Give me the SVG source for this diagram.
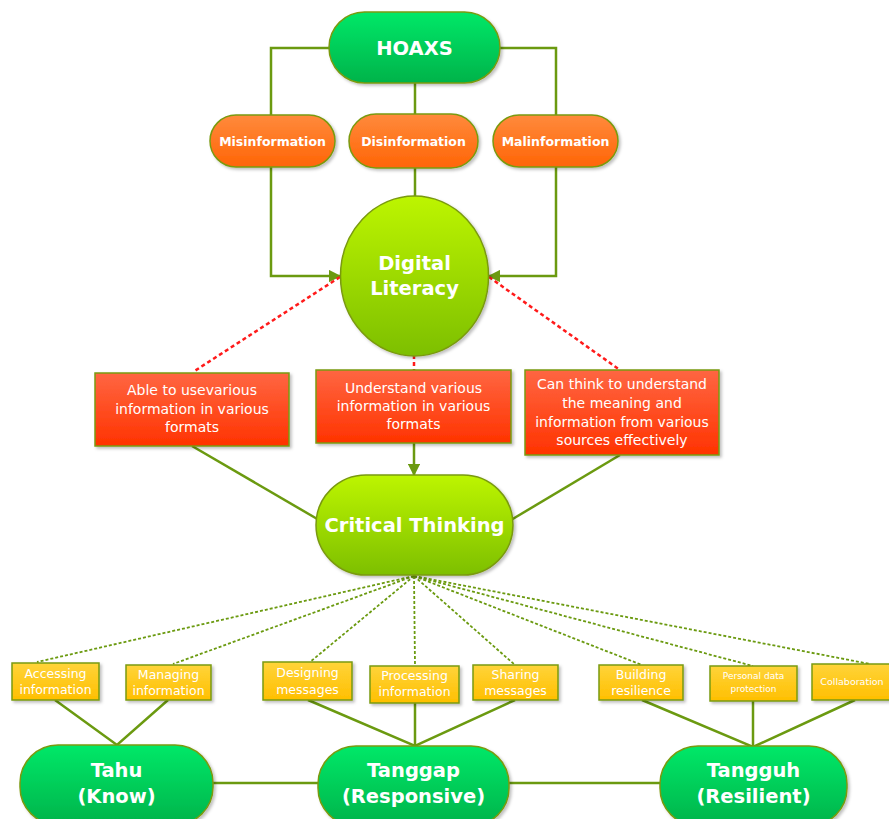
<svg xmlns="http://www.w3.org/2000/svg" width="889" height="819" viewBox="0 0 889 819">
<defs>
<linearGradient id="gGreen" x1="0" y1="0" x2="0" y2="1"><stop offset="0" stop-color="#00e868"/><stop offset="1" stop-color="#00b34a"/></linearGradient>
<linearGradient id="gOrange" x1="0" y1="0" x2="0" y2="1"><stop offset="0" stop-color="#ff8a3c"/><stop offset="1" stop-color="#ff6506"/></linearGradient>
<linearGradient id="gLime" x1="0" y1="0" x2="0" y2="1"><stop offset="0" stop-color="#bdf500"/><stop offset="1" stop-color="#7dbf00"/></linearGradient>
<linearGradient id="gRed" x1="0" y1="0" x2="0" y2="1"><stop offset="0" stop-color="#ff6642"/><stop offset="1" stop-color="#ff3300"/></linearGradient>
<linearGradient id="gYellow" x1="0" y1="0" x2="0" y2="1"><stop offset="0" stop-color="#ffd43a"/><stop offset="1" stop-color="#ffbf00"/></linearGradient>
<filter id="sh" x="-10%" y="-10%" width="130%" height="130%"><feDropShadow dx="2" dy="2" stdDeviation="1.5" flood-color="#000" flood-opacity="0.25"/></filter>
<marker id="arr" viewBox="0 0 10 10" refX="9" refY="5" markerWidth="5" markerHeight="5" orient="auto"><path d="M0,0 L10,5 L0,10 z" fill="#6b9a10"/></marker>
</defs>
<style>
.node{stroke:#7a9a10;stroke-width:1.5;filter:url(#sh)}
.green{fill:url(#gGreen)}
.orange{fill:url(#gOrange)}
.lime{fill:url(#gLime)}
.red{fill:url(#gRed)}
.yellow{fill:url(#gYellow)}
.ln{fill:none;stroke:#6b9a10;stroke-width:2.5}
.red-dash{fill:none;stroke:#ff1a1a;stroke-width:2.5;stroke-dasharray:4 3}
.dot{fill:none;stroke:#6b9a10;stroke-width:1.8;stroke-dasharray:3 2}
text{fill:#fff;font-family:"DejaVu Sans",Verdana,sans-serif;text-anchor:middle;dominant-baseline:central}
.big{font-weight:bold;font-size:19.5px}
.mid{font-weight:bold;font-size:12.5px}
.box{font-size:14px}
.ybox{font-size:12.5px}
</style>
<g id="connectors">
<path class="ln" d="M329,48 H271 V115"/>
<path class="ln" d="M500,48 H556 V115"/>
<path class="ln" d="M415,83 V114"/>
<path class="ln" d="M271,167 V276 H340" marker-end="url(#arr)"/>
<path class="ln" d="M556,167 V276 H489" marker-end="url(#arr)"/>
<path class="ln" d="M415,168 V196"/>
<path class="red-dash" d="M340,277 L193,372"/>
<path class="red-dash" d="M489,277 L620,370"/>
<path class="red-dash" d="M414,355 V370"/>
<path class="ln" d="M192,446 L319,520"/>
<path class="ln" d="M620,455 L511,520"/>
<path class="ln" d="M414,443 V475" marker-end="url(#arr)"/>
<path class="dot" d="M414,576 L37,662"/>
<path class="dot" d="M414,576 L173,664"/>
<path class="dot" d="M414,576 L310,662"/>
<path class="dot" d="M414,576 L415,666"/>
<path class="dot" d="M414,576 L515,665"/>
<path class="dot" d="M414,576 L642,665"/>
<path class="dot" d="M414,576 L753,666"/>
<path class="dot" d="M414,576 L870,664"/>
<path class="ln" d="M55,700 L117,745 L168,700"/>
<path class="ln" d="M308,700 L415,746 L515,700"/>
<path class="ln" d="M415,703 V746"/>
<path class="ln" d="M642,700 L753,747 L855,700"/>
<path class="ln" d="M753,701 V747"/>
<path class="ln" d="M213,783 H318"/>
<path class="ln" d="M509,783 H660"/>
</g>
<g id="hoaxs"><rect class="node green" x="329" y="12" width="171" height="71" rx="35.5"/><text class="big" x="414.5" y="48">HOAXS</text></g>
<g id="misinformation"><rect class="node orange" x="210" y="115" width="125" height="52" rx="26"/><text class="mid" x="272.5" y="141">Misinformation</text></g>
<g id="disinformation"><rect class="node orange" x="349" y="114" width="129" height="54" rx="27"/><text class="mid" x="413.5" y="141">Disinformation</text></g>
<g id="malinformation"><rect class="node orange" x="493" y="115" width="125" height="52" rx="26"/><text class="mid" x="555.5" y="141">Malinformation</text></g>
<g id="digital-literacy"><ellipse class="node lime" cx="414.5" cy="276" rx="74" ry="80"/><text class="big" x="414.5" y="263">Digital</text><text class="big" x="414.5" y="288">Literacy</text></g>
<g id="box-able"><rect class="node red" x="95" y="373" width="194" height="73"/><text class="box" x="192" y="390">Able to usevarious</text><text class="box" x="192" y="408.5">information in various</text><text class="box" x="192" y="427">formats</text></g>
<g id="box-understand"><rect class="node red" x="316" y="370" width="195" height="73"/><text class="box" x="413.5" y="388">Understand various</text><text class="box" x="413.5" y="406">information in various</text><text class="box" x="413.5" y="424">formats</text></g>
<g id="box-think"><rect class="node red" x="525" y="370" width="194" height="85"/><text class="box" x="622" y="384">Can think to understand</text><text class="box" x="622" y="403">the meaning and</text><text class="box" x="622" y="421.5">information from various</text><text class="box" x="622" y="440">sources effectively</text></g>
<g id="critical-thinking"><rect class="node lime" x="316" y="475" width="197" height="100" rx="50"/><text class="big" x="414.5" y="525">Critical Thinking</text></g>
<g id="accessing"><rect class="node yellow" x="12" y="663" width="87" height="37"/><text class="ybox" x="55.5" y="673">Accessing</text><text class="ybox" x="55.5" y="689">information</text></g>
<g id="managing"><rect class="node yellow" x="126" y="665" width="85" height="35"/><text class="ybox" x="168.5" y="674">Managing</text><text class="ybox" x="168.5" y="690">information</text></g>
<g id="designing"><rect class="node yellow" x="263" y="662" width="89" height="38"/><text class="ybox" x="307.5" y="672">Designing</text><text class="ybox" x="307.5" y="689">messages</text></g>
<g id="processing"><rect class="node yellow" x="370" y="666" width="89" height="37"/><text class="ybox" x="414.5" y="675">Processing</text><text class="ybox" x="414.5" y="691">information</text></g>
<g id="sharing"><rect class="node yellow" x="473" y="665" width="85" height="35"/><text class="ybox" x="515.5" y="674">Sharing</text><text class="ybox" x="515.5" y="690">messages</text></g>
<g id="building"><rect class="node yellow" x="599" y="665" width="84" height="35"/><text class="ybox" x="641" y="674">Building</text><text class="ybox" x="641" y="690">resilience</text></g>
<g id="personal"><rect class="node yellow" x="710" y="666" width="87" height="35"/><text x="753.5" y="676" font-size="9">Personal data</text><text x="753.5" y="689" font-size="9">protection</text></g>
<g id="collaboration"><rect class="node yellow" x="812" y="664" width="80" height="36"/><text x="852" y="681" font-size="9.5">Collaboration</text></g>
<g id="tahu"><rect class="node green" x="20" y="745" width="193" height="80" rx="38"/><text class="big" x="116.5" y="770">Tahu</text><text class="big" x="116.5" y="796">(Know)</text></g>
<g id="tanggap"><rect class="node green" x="318" y="746" width="191" height="80" rx="38"/><text class="big" x="413.5" y="770">Tanggap</text><text class="big" x="413.5" y="796">(Responsive)</text></g>
<g id="tangguh"><rect class="node green" x="660" y="746" width="187" height="80" rx="38"/><text class="big" x="753.5" y="770">Tangguh</text><text class="big" x="753.5" y="796">(Resilient)</text></g>
</svg>
